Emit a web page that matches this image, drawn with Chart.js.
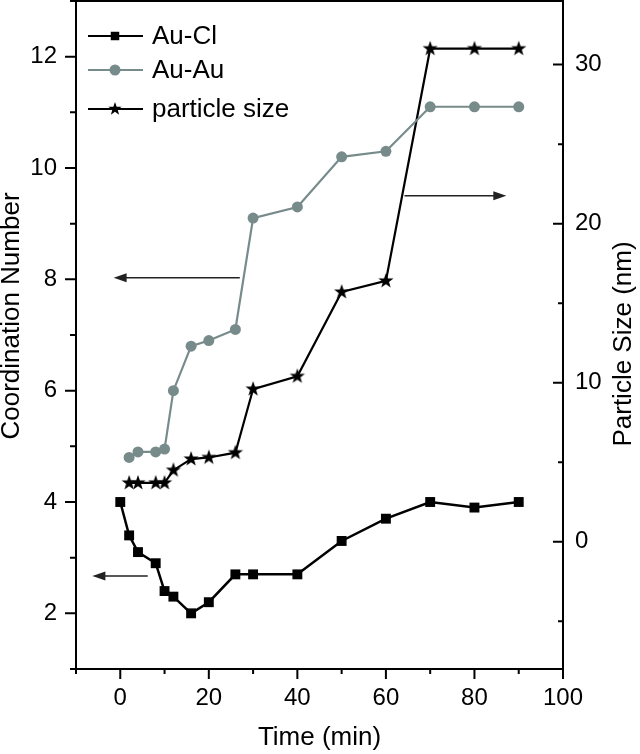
<!DOCTYPE html>
<html>
<head>
<meta charset="utf-8">
<script src="https://cdn.jsdelivr.net/npm/chart.js@4.4.0/dist/chart.umd.min.js"></script>
<style>
    html, body { margin: 0; padding: 0; background: #fff; }
    #wrap { width: 640px; height: 754px; }
</style>
</head>
<body>
<div id="wrap"><canvas id="chart" width="640" height="754"></canvas></div>
<script>
// --- Data ---
const clTimes = [0, 2, 4, 8, 10, 12, 16, 20, 26, 30, 40, 50, 60, 70, 80, 90];
const auClCN = [4.0, 3.4, 3.1, 2.9, 2.4, 2.3, 2.0, 2.2, 2.7, 2.7, 2.7, 3.3, 3.7, 4.0, 3.9, 4.0];

const auTimes = [2, 4, 8, 10, 12, 16, 20, 26, 30, 40, 50, 60, 70, 80, 90];
const auAuCN = [4.8, 4.9, 4.9, 4.95, 6.0, 6.8, 6.9, 7.1, 9.1, 9.3, 10.2, 10.3, 11.1, 11.1, 11.1];
const sizeNm = [3.7, 3.7, 3.7, 3.7, 4.5, 5.2, 5.3, 5.6, 9.6, 10.4, 15.7, 16.4, 31, 31, 31];

const labels = ['Au-Cl', 'Au-Au', 'particle size'];
const axisTitles = { x: 'Time (min)', y: 'Coordination Number', y2: 'Particle Size (nm)' };

// arrows in data units (x: min, y: coordination number), tail -> head
const arrows = [
    [27, 8.03, -1.5, 8.03],
    [6.2, 2.67, -6.3, 2.67],
    [64.2, 9.5, 87.2, 9.5]
];

// --- Style ---
const FONT = "'Liberation Sans', Arial, sans-serif";
const GREY = '#788b8b';

function makeStar(r) {
    const c = document.createElement('canvas');
    const s = Math.ceil(r * 2 + 2);
    c.width = s;
    c.height = s;
    const ctx = c.getContext('2d');
    ctx.fillStyle = '#000';
    ctx.beginPath();
    for (let i = 0; i < 10; i++) {
        const rad = i % 2 ? r * 0.4 : r;
        const a = -Math.PI / 2 + i * Math.PI / 5;
        ctx.lineTo(s / 2 + rad * Math.cos(a), s / 2 + rad * Math.sin(a));
    }
    ctx.closePath();
    ctx.fill();
    return c;
}

const star = makeStar(8);
const legendStar = makeStar(7);

const toPoints = (xs, ys) => xs.map((x, i) => ({ x: x, y: ys[i] }));

// fixed box sizes so the plot area lands where the original one is
function fixBox(size) {
    return s => {
        if (s.isHorizontal()) s.height = size; else s.width = size;
        s.paddingTop = 0;
        s.paddingBottom = 0;
        s.paddingLeft = 0;
        s.paddingRight = 0;
    };
}

function verticalText(ctx, text, x, y) {
    ctx.save();
    ctx.translate(x, y);
    ctx.rotate(-Math.PI / 2);
    ctx.fillText(text, 0, 0);
    ctx.restore();
}

// --- Frame, ticks, arrows, legend ---
const decor = {
    id: 'decor',
    afterDatasetsDraw(chart) {
        const ctx = chart.ctx;
        const a = chart.chartArea;
        const sx = chart.scales.x, sy = chart.scales.y, sy2 = chart.scales.y2;
        ctx.save();
        ctx.strokeStyle = '#000';
        ctx.lineWidth = 2;
        ctx.strokeRect(a.left, a.top, a.right - a.left, a.bottom - a.top);

        ctx.beginPath();
        sx.ticks.forEach(t => {
            const px = sx.getPixelForValue(t.value);
            const len = t.value % 20 === 0 ? 10 : 5;
            ctx.moveTo(px, a.bottom);
            ctx.lineTo(px, a.bottom + len);
        });
        sy.ticks.forEach(t => {
            const py = sy.getPixelForValue(t.value);
            const len = t.value % 2 === 0 ? 11 : 6;
            ctx.moveTo(a.left, py);
            ctx.lineTo(a.left - len, py);
        });
        sy2.ticks.forEach(t => {
            if (t.value % 5 !== 0) return;
            const py = sy2.getPixelForValue(t.value);
            const len = t.value % 10 === 0 ? 10 : 5;
            ctx.moveTo(a.right, py);
            ctx.lineTo(a.right - len, py);
        });
        ctx.stroke();

        // arrows
        ctx.strokeStyle = '#222';
        ctx.fillStyle = '#222';
        ctx.lineWidth = 1.5;
        arrows.forEach(([x1, y1, x2, y2]) => {
            const p1x = sx.getPixelForValue(x1), p1y = sy.getPixelForValue(y1);
            const p2x = sx.getPixelForValue(x2), p2y = sy.getPixelForValue(y2);
            const ang = Math.atan2(p2y - p1y, p2x - p1x);
            const hl = 13, hw = 4.5;
            ctx.beginPath();
            ctx.moveTo(p1x, p1y);
            ctx.lineTo(p2x - Math.cos(ang) * hl * 0.8, p2y - Math.sin(ang) * hl * 0.8);
            ctx.stroke();
            ctx.beginPath();
            ctx.moveTo(p2x, p2y);
            ctx.lineTo(p2x - Math.cos(ang) * hl - Math.sin(ang) * hw, p2y - Math.sin(ang) * hl + Math.cos(ang) * hw);
            ctx.lineTo(p2x - Math.cos(ang) * hl + Math.sin(ang) * hw, p2y - Math.sin(ang) * hl - Math.cos(ang) * hw);
            ctx.closePath();
            ctx.fill();
        });

        // vertical axis titles, both read bottom to top
        ctx.fillStyle = '#000';
        ctx.font = '26px ' + FONT;
        ctx.textAlign = 'center';
        ctx.textBaseline = 'middle';
        verticalText(ctx, axisTitles.y, 12, 316);
        verticalText(ctx, axisTitles.y2, 624, 344);
        ctx.restore();

        // legend
        const rows = [36, 70, 109];
        const marks = [
            { pointStyle: 'rect', radius: 6, rotation: 0, borderWidth: 0 },
            { pointStyle: 'circle', radius: 5.5, rotation: 0, borderWidth: 0 },
            { pointStyle: legendStar, radius: 7, rotation: 0, borderWidth: 0 }
        ];
        ctx.save();
        chart.data.datasets.forEach((ds, i) => {
            const y = rows[i];
            ctx.strokeStyle = ds.borderColor;
            ctx.fillStyle = ds.borderColor;
            ctx.lineWidth = 2;
            ctx.beginPath();
            ctx.moveTo(88, y);
            ctx.lineTo(143, y);
            ctx.stroke();
            Chart.helpers.drawPoint(ctx, marks[i], 115, y);
            ctx.fillStyle = '#000';
            ctx.font = '26px ' + FONT;
            ctx.textAlign = 'left';
            ctx.textBaseline = 'middle';
            ctx.fillText(labels[i], 152, y + 1);
        });
        ctx.restore();
    }
};

// --- Chart ---
const tickFont = { family: FONT, size: 24 };
const titleFont = { family: FONT, size: 26, lineHeight: 0.84 };

new Chart(document.getElementById('chart'), {
    type: 'line',
    data: {
        datasets: [{
            label: labels[0],
            data: toPoints(clTimes, auClCN),
            yAxisID: 'y',
            borderColor: '#000',
            backgroundColor: '#000',
            borderWidth: 2.5,
            pointStyle: 'rect',
            pointRadius: 7,
            pointBorderWidth: 0,
            pointBackgroundColor: '#000',
            tension: 0
        }, {
            label: labels[1],
            data: toPoints(auTimes, auAuCN),
            yAxisID: 'y',
            borderColor: GREY,
            backgroundColor: GREY,
            borderWidth: 2.2,
            pointStyle: 'circle',
            pointRadius: 5.5,
            pointBorderWidth: 0,
            pointBackgroundColor: GREY,
            tension: 0
        }, {
            label: labels[2],
            data: toPoints(auTimes, sizeNm),
            yAxisID: 'y2',
            borderColor: '#000',
            backgroundColor: '#000',
            borderWidth: 2.2,
            pointStyle: star,
            pointRadius: 8,
            pointBorderWidth: 0,
            tension: 0
        }]
    },
    options: {
        responsive: false,
        devicePixelRatio: 1,
        animation: false,
        layout: { autoPadding: false, padding: { top: 1, left: 0, right: 0, bottom: 0 } },
        plugins: { legend: { display: false }, tooltip: { enabled: false } },
        scales: {
            x: {
                type: 'linear',
                min: -10,
                max: 100,
                grid: { display: false, drawTicks: false },
                border: { display: false },
                ticks: {
                    stepSize: 10,
                    autoSkip: false,
                    maxRotation: 0,
                    padding: 15,
                    color: '#000',
                    font: tickFont,
                    callback: v => (v % 20 === 0 ? v : '')
                },
                title: { display: true, text: axisTitles.x, color: '#000', font: titleFont, padding: { top: 0, bottom: 5 } },
                afterFit: fixBox(85)
            },
            y: {
                type: 'linear',
                position: 'left',
                min: 1,
                max: 13,
                grid: { display: false, drawTicks: false },
                border: { display: false },
                ticks: {
                    stepSize: 1,
                    autoSkip: false,
                    padding: 19,
                    color: '#000',
                    font: tickFont,
                    callback: v => (v % 2 === 0 ? v : '')
                },
                afterFit: fixBox(76)
            },
            y2: {
                type: 'linear',
                position: 'right',
                min: -8,
                max: 34,
                grid: { display: false, drawTicks: false },
                border: { display: false },
                ticks: {
                    stepSize: 5,
                    autoSkip: false,
                    padding: 12,
                    color: '#000',
                    font: tickFont,
                    callback: v => (v % 10 === 0 ? v : '')
                },
                afterFit: fixBox(77)
            }
        }
    },
    plugins: [decor]
});
</script>
</body>
</html>
